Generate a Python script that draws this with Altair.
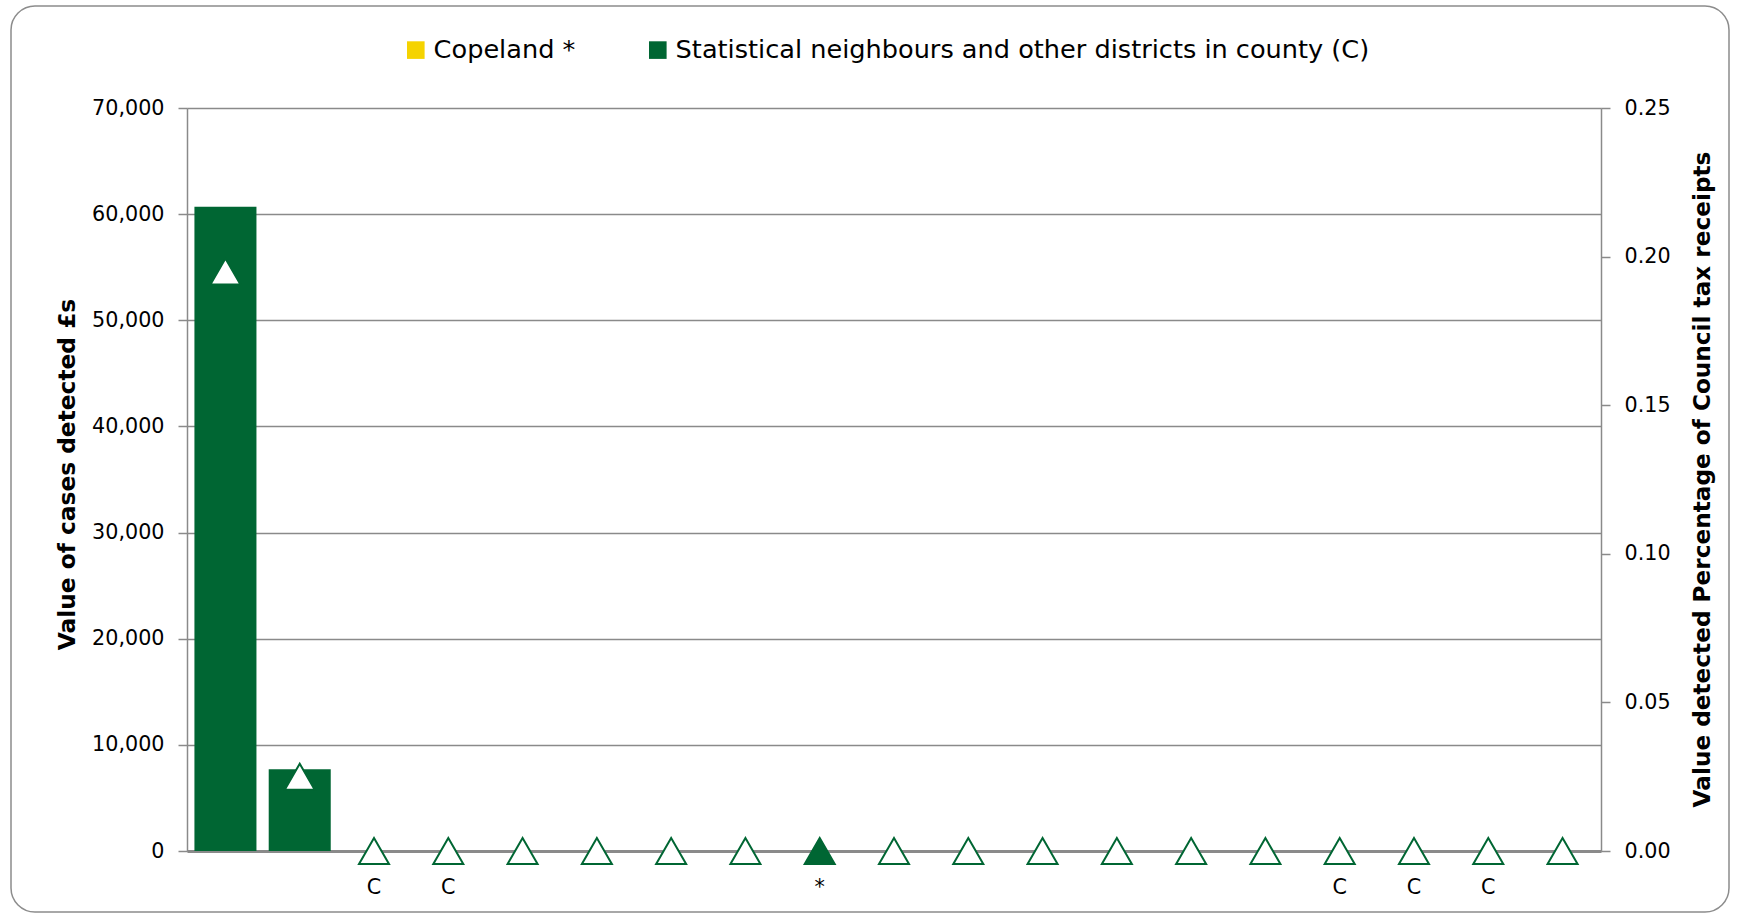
import json
import altair as alt
import pandas as pd

# ---- data ----
idx = list(range(19))
values = [60700, 7700, 0, 0, 0, 0, 0, 0, 0, 0, 0, 0, 0, 0, 0, 0, 0, 0, 0]
pct = [0.195, 0.025, 0, 0, 0, 0, 0, 0, 0, 0, 0, 0, 0, 0, 0, 0, 0, 0, 0]
marks = ["", "", "C", "C", "", "", "", "", "*", "", "", "", "", "", "", "C", "C", "C", ""]
groups = ["Statistical neighbours and other districts in county (C)"] * 19
groups[8] = "Copeland *"
legend_names = ["Copeland *", "Statistical neighbours and other districts in county (C)"]
legend_colors = ["#F5D300", "#006633"]
left_ticks = [0, 10000, 20000, 30000, 40000, 50000, 60000, 70000]
right_ticks = [0, 0.05, 0.10, 0.15, 0.20, 0.25]

df = pd.DataFrame({"idx": idx, "value": values, "pct": pct, "mark": marks, "group": groups})
df["copeland"] = df["group"] == "Copeland *"

GREEN = "#006633"
GRAY = "#8a8a8a"
FONT = "DejaVu Sans"

W, H = 1414, 743
label_expr = json.dumps(marks) + "[datum.value]"

x_enc = alt.X(
    "idx:O",
    scale=alt.Scale(paddingInner=0.165, paddingOuter=0.1),
    axis=alt.Axis(
        title=None, ticks=False, labelAngle=0, labelExpr=label_expr,
        labelPadding=26, labelFontSize=20.7, labelColor="#000000",
        domainColor=GRAY, domainWidth=3, labelFont=FONT,
    ),
)

frame = alt.Chart(alt.Data(values=[{}])).mark_rect(
    fill="white", fillOpacity=0, stroke="#8c8c8c", strokeWidth=1.5, cornerRadius=24
).encode(
    x=alt.value(-176), x2=alt.value(1542), y=alt.value(-102), y2=alt.value(804)
)

bars = alt.Chart(df).mark_bar().encode(
    x=x_enc,
    y=alt.Y(
        "value:Q",
        scale=alt.Scale(domain=[0, 70000], nice=False),
        axis=alt.Axis(
            title="Value of cases detected £s", values=left_ticks, format=",.0f",
            orient="left", grid=True, gridColor=GRAY, gridWidth=1.5,
            domainColor=GRAY, domainWidth=1.5, tickColor=GRAY, tickWidth=1.5,
            tickSize=9, labelPadding=14, labelFontSize=20.7, labelColor="#000000",
            labelFont=FONT, titleFont=FONT, titleFontSize=23.3, titleFontWeight="bold",
            titleColor="#000000", titleAngle=-90, titleAlign="center",
            titleBaseline="middle", titleX=-120, titleY=366,
        ),
    ),
    color=alt.Color(
        "group:N",
        scale=alt.Scale(domain=legend_names, range=legend_colors),
        sort=legend_names,
        legend=alt.Legend(
            title=None, orient="none", direction="horizontal", legendX=216,
            legendY=-71, symbolType="square", symbolSize=310, symbolStrokeWidth=0,
            labelFontSize=25.6, labelFont=FONT, labelColor="#000000",
            labelOffset=5, columnPadding=69, labelLimit=1000, padding=0,
        ),
    ),
)

points = alt.Chart(df).mark_point(
    shape="triangle-up", size=900, strokeWidth=2, opacity=1, stroke=GREEN, filled=False
).encode(
    x=alt.X("idx:O"),
    y=alt.Y(
        "pct:Q",
        scale=alt.Scale(domain=[0, 0.25], nice=False),
        axis=alt.Axis(
            title="Value detected Percentage of Council tax receipts",
            values=right_ticks, format=".2f", orient="right", grid=False,
            domainColor=GRAY, domainWidth=1.5, tickColor=GRAY, tickWidth=1.5,
            tickSize=9, labelPadding=14, labelFontSize=20.7, labelColor="#000000",
            labelFont=FONT, titleFont=FONT, titleFontSize=23.2, titleFontWeight="bold",
            titleColor="#000000", titleAngle=-90, titleAlign="center",
            titleBaseline="middle", titleX=101, titleY=371,
        ),
    ),
    fill=alt.condition(alt.datum.copeland, alt.value(GREEN), alt.value("white")),
)

chart = alt.layer(frame, bars, points).resolve_scale(y="independent").properties(
    width=W, height=H,
    autosize=alt.AutoSizeParams(type="none"),
    padding={"left": 187, "top": 108, "right": 141, "bottom": 63},
    background="white",
).configure_view(stroke=None).configure(font=FONT)

chart.save("out.html", embed_options={"renderer": "svg", "actions": False})
